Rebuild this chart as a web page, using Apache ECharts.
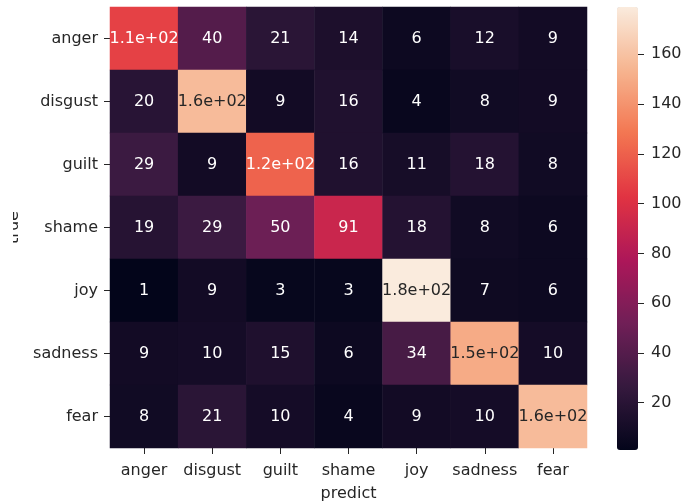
<!DOCTYPE html>
<html>
<head>
<meta charset="utf-8">
<script src="https://cdn.jsdelivr.net/npm/echarts@6/dist/echarts.min.js"></script>
<style>
  html, body { margin: 0; padding: 0; background: #fff; }
  #chart { width: 681px; height: 503px; }
</style>
</head>
<body>
<div id="chart"></div>
<script>
// Emotion classes (rows = true label, columns = predicted label)
const labels = ['anger', 'disgust', 'guilt', 'shame', 'joy', 'sadness', 'fear'];

// Confusion-matrix counts, one array per true class
const rowAnger   = [108, 40, 21, 14, 6, 12, 9];
const rowDisgust = [20, 157, 9, 16, 4, 8, 9];
const rowGuilt   = [29, 9, 121, 16, 11, 18, 8];
const rowShame   = [19, 29, 50, 91, 18, 8, 6];
const rowJoy     = [1, 9, 3, 3, 179, 7, 6];
const rowSadness = [9, 10, 15, 6, 34, 150, 10];
const rowFear    = [8, 21, 10, 4, 9, 10, 157];

// Colour-bar tick labels
const barTicks = [20, 40, 60, 80, 100, 120, 140, 160];

// "rocket" colormap, evenly spaced stops
const rocket = ['#03051a', '#35193e', '#701f57', '#ad1759', '#e13342', '#f37651', '#f6b48f', '#faebdd'];

const rows = [rowAnger, rowDisgust, rowGuilt, rowShame, rowJoy, rowSadness, rowFear];
const all = rows.flat();
const vmin = Math.min(...all);
const vmax = Math.max(...all);

function hexToRgb(h) {
  return [parseInt(h.slice(1, 3), 16), parseInt(h.slice(3, 5), 16), parseInt(h.slice(5, 7), 16)];
}
function cmap(v) {
  const t = Math.max(0, Math.min(1, (v - vmin) / (vmax - vmin)));
  const pos = t * (rocket.length - 1);
  const i = Math.min(rocket.length - 2, Math.floor(pos));
  const f = pos - i;
  const a = hexToRgb(rocket[i]), b = hexToRgb(rocket[i + 1]);
  return a.map((c, k) => c + (b[k] - c) * f);
}
function luminance(rgb) {
  const lin = rgb.map(c => {
    c /= 255;
    return c <= 0.03928 ? c / 12.92 : Math.pow((c + 0.055) / 1.055, 2.4);
  });
  return 0.2126 * lin[0] + 0.7152 * lin[1] + 0.0722 * lin[2];
}
// two significant digits, like printf "%.2g"
function fmt2g(v) {
  if (Math.abs(v) >= 100) {
    const s = v.toExponential(1);
    return s.replace(/e([+-])(\d)$/, 'e$10$2');
  }
  return String(v);
}

const cells = [];
rows.forEach((r, yi) => {
  r.forEach((v, xi) => {
    cells.push({
      value: [xi, yi, v],
      label: { color: luminance(cmap(v)) > 0.408 ? '#262626' : '#ffffff' }
    });
  });
});

const font = 'DejaVu Sans';
const fs = 16;
const textColor = '#262626';

const chart = echarts.init(document.getElementById('chart'), null, { renderer: 'canvas' });
chart.setOption({
  backgroundColor: '#ffffff',
  animation: false,
  grid: [
    { left: 110, top: 7, width: 477, height: 441, outerBoundsMode: 'none', containLabel: false },
    { left: 617, top: 7, width: 21, height: 443, outerBoundsMode: 'none', containLabel: false }
  ],
  xAxis: [
    {
      type: 'category', data: labels, gridIndex: 0,
      name: 'predict', nameLocation: 'middle', nameGap: 38,
      nameTextStyle: { fontFamily: font, fontSize: fs, color: textColor },
      axisLine: { show: false },
      axisTick: { show: true, alignWithLabel: true, length: 6, interval: 0, lineStyle: { color: textColor } },
      axisLabel: { fontFamily: font, fontSize: fs, color: textColor, margin: 15, interval: 0 },
      splitLine: { show: false }
    },
    { type: 'category', data: ['c'], gridIndex: 1, show: false }
  ],
  yAxis: [
    {
      type: 'category', data: labels, gridIndex: 0, inverse: true,
      name: 'true', nameLocation: 'middle', nameGap: 87, nameRotate: 90,
      nameTextStyle: { fontFamily: font, fontSize: fs, color: textColor },
      axisLine: { show: false },
      axisTick: { show: true, alignWithLabel: true, length: 6, interval: 0, lineStyle: { color: textColor } },
      axisLabel: { fontFamily: font, fontSize: fs, color: textColor, margin: 12, interval: 0 },
      splitLine: { show: false }
    },
    {
      type: 'value', gridIndex: 1, position: 'right', min: vmin, max: vmax,
      axisLine: { show: false },
      axisTick: { show: true, length: 6, customValues: barTicks, lineStyle: { color: textColor } },
      axisLabel: { fontFamily: font, fontSize: fs, color: textColor, margin: 13, customValues: barTicks },
      splitLine: { show: false }
    }
  ],
  visualMap: {
    type: 'continuous', seriesIndex: 0, dimension: 2,
    min: vmin, max: vmax, calculable: false, hoverLink: false,
    left: 617, top: 7, itemWidth: 21, itemHeight: 443, padding: 0,
    text: null, showLabel: false,
    inRange: { color: rocket }
  },
  series: [
    {
      type: 'heatmap', xAxisIndex: 0, yAxisIndex: 0,
      data: cells,
      label: {
        show: true, fontFamily: font, fontSize: fs,
        formatter: p => fmt2g(p.value[2])
      },
      itemStyle: { borderWidth: 0 },
      emphasis: { disabled: true }
    },
    { type: 'scatter', xAxisIndex: 1, yAxisIndex: 1, data: [] }
  ],
  graphic: [
    // margin strip at the left edge of the figure
    { type: 'rect', left: 0, top: 190, shape: { width: 13, height: 80 }, style: { fill: '#ffffff' }, z: 100 }
  ]
});
</script>
</body>
</html>
